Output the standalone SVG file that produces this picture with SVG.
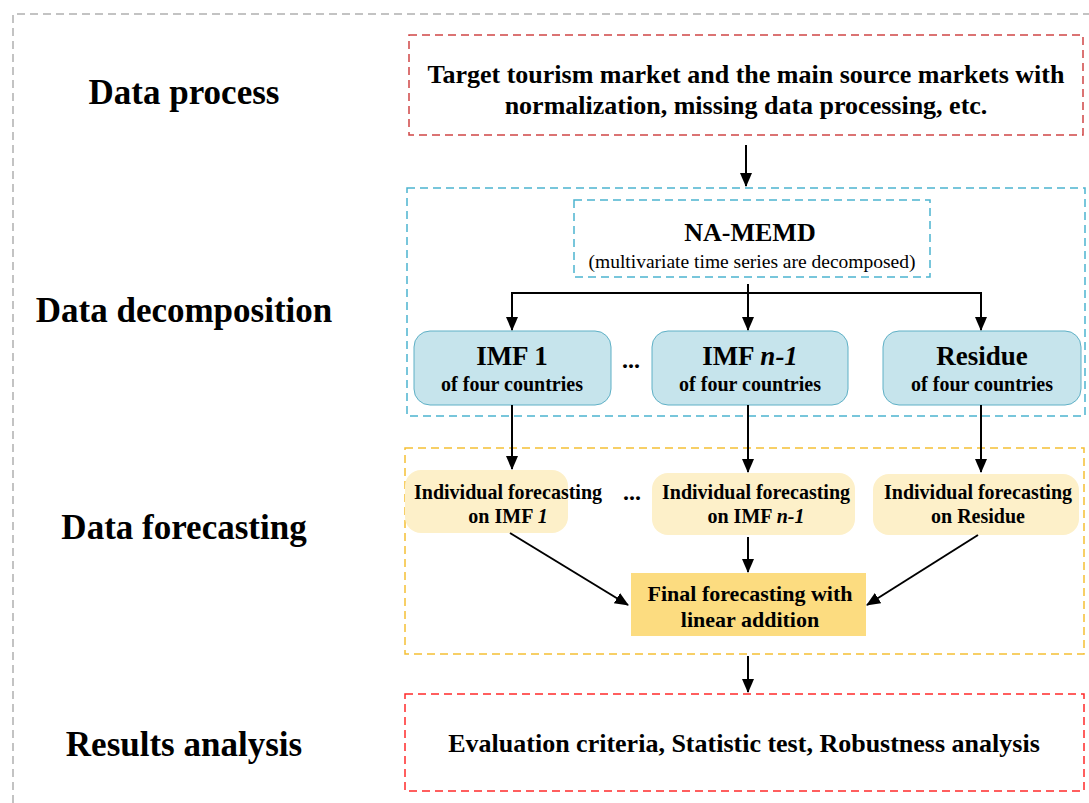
<svg xmlns="http://www.w3.org/2000/svg" width="1089" height="803" viewBox="0 0 1089 803">
<style>
text{font-family:"Liberation Serif","Times New Roman",serif;font-weight:bold;text-anchor:middle;fill:#000}
.lab{font-size:35px}
.dash{fill:none;stroke-width:1.5;stroke-dasharray:8,5}
.imf{fill:#c6e4ec;stroke:#5eb0c6;stroke-width:1}
.ind{fill:#fdf0c9}
.t26{font-size:26px}
.t27{font-size:27px}
.t20{font-size:20px}
.con{stroke:#000;stroke-width:2;fill:none}
</style>
<defs>
<marker id="a" markerWidth="14" markerHeight="16" refX="13" refY="7" orient="auto" markerUnits="userSpaceOnUse">
<path d="M0,1 L14,7 L0,13 Z" fill="#000"/>
</marker>
</defs>
<g id="frame"><path d="M13,803 L13,14 L1089,14" class="dash" stroke="#b0b0b0"/></g>
<g id="labels">
<text class="lab" x="184" y="104">Data process</text>
<text class="lab" x="184" y="322">Data decomposition</text>
<text class="lab" x="184" y="539">Data forecasting</text>
<text class="lab" x="184" y="756">Results analysis</text>
</g>
<g id="data-process">
<rect x="409" y="35" width="674" height="100" class="dash" stroke="#d04545"/>
<text class="t26" x="746" y="83">Target tourism market and the main source markets with</text>
<text class="t26" x="746" y="114">normalization, missing data processing, etc.</text>
</g>
<g id="decomposition-frame"><rect x="407" y="188" width="678" height="228" class="dash" stroke="#4cb4cf"/></g>
<g id="na-memd">
<rect x="574" y="200" width="356" height="77" class="dash" stroke="#4cb4cf"/>
<text class="t26" x="750" y="241">NA-MEMD</text>
<text x="752" y="268" style="font-weight:normal;font-size:19.5px">(multivariate time series are decomposed)</text>
</g>
<g id="imf1">
<rect x="414" y="331" width="197" height="74" rx="16" class="imf"/>
<text class="t27" x="512" y="365">IMF 1</text>
<text class="t20" x="512" y="391">of four countries</text>
</g>
<g id="imfn">
<rect x="652" y="331" width="196" height="74" rx="16" class="imf"/>
<text class="t27" x="750" y="365">IMF <tspan font-style="italic">n-1</tspan></text>
<text class="t20" x="750" y="391">of four countries</text>
</g>
<g id="residue">
<rect x="883" y="331" width="198" height="74" rx="16" class="imf"/>
<text class="t27" x="982" y="365">Residue</text>
<text class="t20" x="982" y="391">of four countries</text>
</g>
<text x="631" y="368" style="font-size:24px">...</text>
<g id="forecasting-frame"><rect x="405" y="448" width="679" height="206" class="dash" stroke="#f5c034"/></g>
<g id="ind1">
<rect x="405" y="470" width="163" height="63" rx="16" class="ind"/>
<text class="t20" x="508" y="499">Individual forecasting</text>
<text class="t20" x="508" y="523">on IMF <tspan font-style="italic">1</tspan></text>
</g>
<g id="indn">
<rect x="652" y="473" width="203" height="62" rx="16" class="ind"/>
<text class="t20" x="756" y="499">Individual forecasting</text>
<text class="t20" x="756" y="523">on IMF <tspan font-style="italic">n-1</tspan></text>
</g>
<g id="indr">
<rect x="873" y="474" width="206" height="61" rx="16" class="ind"/>
<text class="t20" x="978" y="499">Individual forecasting</text>
<text class="t20" x="978" y="523">on Residue</text>
</g>
<text x="632" y="500" style="font-size:24px">...</text>
<g id="final">
<rect x="631" y="573" width="235" height="63" fill="#fcdc80"/>
<text x="750" y="601" style="font-size:22px">Final forecasting with</text>
<text x="750" y="627" style="font-size:22px">linear addition</text>
</g>
<g id="results">
<rect x="405" y="694" width="679" height="97" class="dash" stroke="#ff2a2a"/>
<text x="744" y="752" style="font-size:26px">Evaluation criteria, Statistic test, Robustness analysis</text>
</g>
<g id="connectors">
<line x1="746" y1="145" x2="746" y2="186" class="con" marker-end="url(#a)"/>
<polyline points="512,330 512,293 981,293 981,330" class="con" marker-end="url(#a)"/>
<line x1="748" y1="284" x2="748" y2="330" class="con" marker-end="url(#a)"/>
<line x1="512" y1="293" x2="512" y2="330" class="con" marker-end="url(#a)"/>
<line x1="512" y1="405" x2="512" y2="469" class="con" marker-end="url(#a)"/>
<line x1="748" y1="405" x2="748" y2="472" class="con" marker-end="url(#a)"/>
<line x1="981" y1="405" x2="981" y2="472" class="con" marker-end="url(#a)"/>
<line x1="510" y1="533" x2="628" y2="605" class="con" marker-end="url(#a)"/>
<line x1="748" y1="537" x2="748" y2="572" class="con" marker-end="url(#a)"/>
<line x1="978" y1="535" x2="867" y2="605" class="con" marker-end="url(#a)"/>
<line x1="748" y1="656" x2="748" y2="692" class="con" marker-end="url(#a)"/>
</g>
</svg>
